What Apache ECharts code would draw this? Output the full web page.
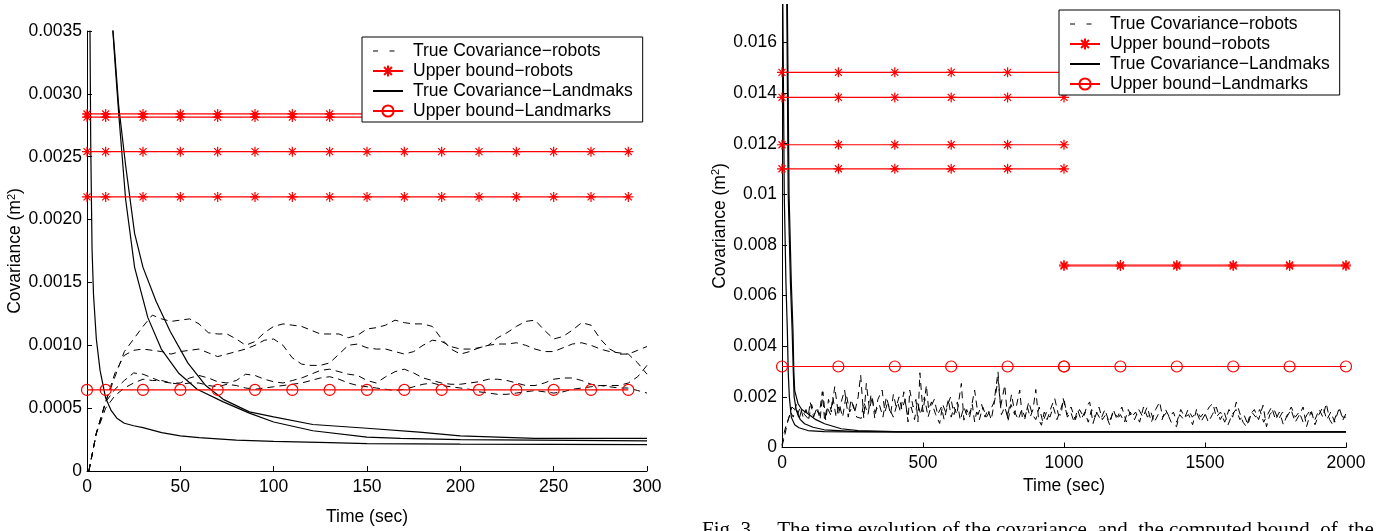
<!DOCTYPE html>
<html><head><meta charset="utf-8">
<script src="https://cdn.jsdelivr.net/npm/echarts@6/dist/echarts.min.js"></script>
<style>html,body{margin:0;padding:0;background:#fff}#c{width:1398px;height:531px}</style>
</head><body><div id="c"></div>
<script>
// Values in units of 10^-3 m^2 (axis labels show m^2)
const legendNames = ['True Covariance\u2212robots','Upper bound\u2212robots','True Covariance\u2212Landmaks','Upper bound\u2212Landmarks'];

// ---------- Left chart (0-300 s) ----------
const leftXTicks = [0,50,100,150,200,250,300];
const leftMarkerTimes = [0,10,30,50,70,90,110,130,150,170,190,210,230,250,270,290];
const leftRobotBounds = [2.84, 2.815, 2.54, 2.18];
const leftLandmarkBound = 0.645;
const leftLandmark1 = [[1.2,5],[1.6,3.5],[2,2.6],[2.7,1.77],[3.5,1.4],[5,1.05],[7,0.8],[10,0.58],[13,0.48],[16,0.42],[20,0.38],[25,0.36],[30,0.345],[40,0.305],[50,0.28],[60,0.265],[70,0.255],[80,0.245],[100,0.235],[130,0.225],[150,0.218],[200,0.214],[250,0.212],[300,0.21]];
const leftLandmark2 = [[13.4,3.6],[15,3.25],[17,2.84],[20.7,2.16],[25.5,1.62],[32.6,1.22],[39.8,0.97],[49,0.78],[59,0.65],[73,0.55],[87,0.46],[100,0.39],[121,0.32],[150,0.27],[168,0.26],[200,0.25],[300,0.24]];
const leftLandmark3 = [[13.4,3.6],[15,3.3],[17,2.9],[20.7,2.43],[25.5,1.89],[30,1.62],[37,1.35],[44.6,1.11],[54,0.86],[63.6,0.68],[73,0.57],[87,0.47],[100,0.43],[121,0.37],[150,0.34],[178,0.31],[200,0.28],[240,0.26],[300,0.26]];
const leftRobot1 = [[1,0],[5,0.3],[10,0.55],[15,0.75],[20,0.95],[25,1.05],[30,1.15],[35,1.24],[40,1.21],[45,1.19],[50,1.2],[55,1.21],[60,1.17],[65,1.1],[70,1.09],[75,1.09],[80,1.05],[85,1.0],[90,1.03],[95,1.1],[100,1.15],[105,1.17],[110,1.16],[115,1.15],[120,1.12],[125,1.09],[130,1.09],[135,1.09],[140,1.06],[145,1.08],[150,1.13],[155,1.14],[160,1.16],[165,1.2],[170,1.18],[175,1.17],[180,1.17],[185,1.15],[190,1.05],[195,0.97],[200,0.93],[205,0.95],[210,0.98],[215,1.0],[220,1.06],[225,1.1],[230,1.15],[235,1.19],[240,1.2],[245,1.12],[250,1.05],[255,1.07],[260,1.12],[265,1.18],[270,1.16],[275,1.05],[280,0.97],[285,0.93],[290,0.93],[295,0.96],[300,0.99]];
const leftRobot2 = [[1,0],[5,0.3],[10,0.55],[15,0.78],[20,0.92],[25,0.96],[30,0.97],[35,0.96],[40,0.95],[45,0.93],[50,0.95],[55,0.96],[60,0.97],[65,0.94],[70,0.91],[75,0.93],[80,0.95],[85,0.97],[90,1.0],[95,1.04],[100,1.05],[105,1.0],[110,0.9],[115,0.85],[120,0.84],[125,0.84],[130,0.86],[135,0.93],[140,1.0],[145,1.01],[150,0.98],[155,0.97],[160,0.97],[165,0.95],[170,0.93],[175,0.95],[180,1.0],[185,1.04],[190,1.03],[195,0.99],[200,0.97],[205,0.97],[210,0.98],[215,1.0],[220,1.01],[225,1.01],[230,1.02],[235,1.0],[240,0.97],[245,0.95],[250,0.95],[255,0.98],[260,1.01],[265,1.02],[270,1.0],[275,0.97],[280,0.95],[285,0.94],[290,0.93],[295,0.86],[300,0.77]];
const leftRobot3 = [[1,0],[5,0.3],[10,0.55],[15,0.65],[20,0.72],[25,0.78],[30,0.77],[35,0.74],[40,0.71],[45,0.7],[50,0.7],[55,0.74],[60,0.76],[65,0.74],[70,0.71],[75,0.7],[80,0.72],[85,0.77],[90,0.76],[95,0.73],[100,0.71],[105,0.7],[110,0.72],[115,0.74],[120,0.77],[125,0.8],[130,0.81],[135,0.79],[140,0.77],[145,0.76],[150,0.72],[155,0.7],[160,0.75],[165,0.79],[170,0.81],[175,0.78],[180,0.74],[185,0.72],[190,0.7],[195,0.69],[200,0.69],[205,0.7],[210,0.71],[215,0.73],[220,0.73],[225,0.72],[230,0.7],[235,0.68],[240,0.68],[245,0.7],[250,0.73],[255,0.74],[260,0.74],[265,0.72],[270,0.69],[275,0.68],[280,0.68],[285,0.68],[290,0.7],[295,0.75],[300,0.84]];
const leftRobot4 = [[1,0],[5,0.3],[10,0.5],[15,0.6],[20,0.66],[25,0.7],[30,0.73],[35,0.72],[40,0.72],[45,0.7],[50,0.69],[55,0.7],[60,0.7],[65,0.68],[70,0.67],[75,0.69],[80,0.68],[85,0.66],[90,0.65],[95,0.66],[100,0.67],[105,0.68],[110,0.69],[115,0.7],[120,0.72],[125,0.74],[130,0.75],[135,0.73],[140,0.7],[145,0.68],[150,0.67],[155,0.66],[160,0.65],[165,0.64],[170,0.65],[175,0.67],[180,0.69],[185,0.7],[190,0.68],[195,0.67],[200,0.66],[205,0.65],[210,0.63],[215,0.62],[220,0.61],[225,0.61],[230,0.62],[235,0.63],[240,0.64],[245,0.63],[250,0.62],[255,0.63],[260,0.65],[265,0.66],[270,0.67],[275,0.68],[280,0.67],[285,0.66],[290,0.66],[295,0.64],[300,0.62]];

// ---------- Right chart (0-2000 s) ----------
const rightXTicks = [0,500,1000,1500,2000];
const rightYTicks = [0,2,4,6,8,10,12,14,16];
const rightMarkerTimesA = [0,200,400,600,800,1000];
const rightMarkerTimesB = [1000,1200,1400,1600,1800,2000];
const rightRobotBoundsA = [14.82, 13.83, 11.96, 11.01];
const rightRobotBoundsB = [7.17, 7.21];
const rightLandmarkBound = 3.2;
const rightLandmark1 = [[2,30],[3,17.5],[8,10],[14,6.5],[19,4.6],[22,3.0],[26,2.0],[33,1.2],[45,0.9],[60,0.78],[92,0.67],[150,0.63],[250,0.62],[2000,0.62]];
const rightLandmark2 = [[15,30],[17,17.5],[22,10],[30,6.5],[36,4.6],[40,3.0],[43,2.0],[51,1.46],[65,1.1],[80,0.94],[110,0.8],[150,0.7],[250,0.64],[400,0.62],[2000,0.62]];
const rightLandmark3 = [[17,30],[19,17.5],[25,10],[33,6.5],[39,4.6],[42,3.0],[45,2.25],[57,1.73],[70,1.5],[92,1.33],[120,1.1],[151,0.94],[210,0.74],[270,0.67],[400,0.63],[600,0.62],[2000,0.62]];
const rightRobotA = [[0,0.1],[8,0.6],[15,0.9],[25,1.2],[35,1.6],[45,1.5],[55,1.3],[65,1.6],[75,1.2],[85,1.5],[95,1.15],[105,1.7],[115,1.3],[125,1.6],[135,1.1],[145,2.2],[155,1.08],[165,1.9],[175,1.4],[187,2.4],[200,1.3],[210,1.8],[222,2.27],[235,1.2],[245,1.9],[258,1.4],[270,2.0],[279,2.86],[290,1.15],[299,2.53],[310,1.5],[320,2.0],[329,1.15],[340,1.9],[355,2.27],[365,1.4],[375,1.8],[385,1.3],[395,2.1],[405,1.6],[415,2.0],[425,1.5],[437,1.9],[447,1.01],[453,2.27],[465,1.6],[475,1.9],[482,1.01],[489,2.95],[500,1.4],[512,2.46],[520,1.5],[530,1.8],[545,1.3],[559,0.95],[570,1.7],[580,1.4],[590,1.9],[600,1.2],[610,1.6],[620,1.3],[636,2.53],[645,1.08],[655,1.5],[665,1.2],[675,1.7],[683,1.01],[690,1.4],[700,1.1],[712,1.6],[725,1.2],[740,1.5],[752,1.8],[766,2.99],[775,1.6],[790,2.46],[801,1.01],[812,1.7],[825,1.3],[843,2.27],[852,1.2],[860,1.08],[870,1.6],[880,1.2],[890,1.5],[900,2.29],[910,1.1],[920,0.88],[930,1.4],[940,1.1],[955,1.6],[967,1.94],[980,1.3],[990,1.28],[997,1.94],[1010,1.3],[1025,1.6],[1040,1.1],[1055,1.5],[1070,1.2],[1080,1.6],[1091,1.8],[1103,0.95],[1115,1.4],[1130,1.1],[1145,1.5],[1160,1.0],[1175,1.4],[1190,1.2],[1205,1.6],[1221,1.01],[1235,1.4],[1250,1.1],[1265,1.5],[1280,1.2],[1295,1.6],[1310,1.0],[1325,1.5],[1339,1.8],[1350,1.2],[1365,1.4],[1380,1.0],[1399,0.82],[1410,1.3],[1425,1.1],[1440,1.5],[1455,1.2],[1470,1.4],[1485,1.0],[1500,1.3],[1515,1.6],[1528,1.74],[1540,1.2],[1555,1.4],[1570,1.0],[1585,1.5],[1598,1.2],[1611,1.8],[1625,1.3],[1635,1.0],[1647,0.82],[1660,1.3],[1675,1.5],[1690,1.1],[1706,1.67],[1718,0.82],[1730,1.3],[1745,1.5],[1760,1.1],[1775,1.4],[1790,1.2],[1805,1.5],[1820,1.0],[1835,1.3],[1848,1.6],[1860,0.82],[1875,1.4],[1890,1.1],[1905,1.5],[1918,1.2],[1930,1.74],[1942,1.1],[1954,0.88],[1965,1.3],[1978,1.5],[1990,1.1],[2000,1.34]];
const rightRobotB = [[0,0.05],[10,0.5],[20,1.0],[30,1.4],[40,1.2],[50,1.7],[60,1.1],[70,1.5],[80,1.3],[92,1.15],[100,1.8],[112,1.2],[122,1.5],[132,1.3],[143,2.2],[151,1.08],[160,1.6],[172,1.3],[180,2.0],[192,1.2],[203,1.7],[215,1.2],[228,2.1],[240,1.4],[252,1.7],[265,1.2],[281,1.15],[290,1.8],[305,1.3],[316,2.1],[330,1.4],[345,1.7],[358,1.2],[370,2.0],[382,1.5],[395,1.2],[410,1.8],[420,1.4],[432,2.2],[444,1.3],[458,1.6],[470,1.1],[480,1.8],[492,1.3],[505,2.0],[518,1.2],[528,1.6],[540,1.9],[552,1.3],[565,1.6],[575,1.1],[588,1.7],[598,2.0],[610,1.3],[622,1.8],[632,1.08],[645,1.6],[658,1.2],[670,1.5],[683,2.27],[695,1.3],[708,1.7],[720,1.2],[730,1.5],[742,1.1],[755,1.9],[766,2.7],[778,1.3],[790,1.6],[800,1.2],[814,2.1],[825,1.4],[838,1.1],[850,1.5],[862,1.2],[875,1.8],[888,1.3],[900,1.1],[912,1.6],[925,1.0],[938,1.4],[950,1.2],[962,1.6],[975,1.1],[988,1.5],[1000,1.9],[1012,1.2],[1024,1.4],[1036,1.0],[1048,1.5],[1060,1.1],[1074,1.4],[1086,1.0],[1098,1.5],[1110,1.2],[1124,1.6],[1136,1.1],[1148,1.3],[1162,0.9],[1175,1.5],[1188,1.1],[1200,1.3],[1214,1.0],[1228,1.5],[1240,1.2],[1254,1.4],[1268,1.0],[1282,1.6],[1296,1.2],[1308,1.4],[1320,1.0],[1334,1.3],[1348,1.1],[1360,1.5],[1374,1.2],[1388,1.4],[1400,1.0],[1414,1.5],[1428,1.2],[1442,1.3],[1456,0.9],[1470,1.5],[1484,1.2],[1498,1.4],[1512,1.0],[1526,1.3],[1540,1.6],[1554,1.1],[1568,1.4],[1582,0.9],[1596,1.3],[1610,1.5],[1624,1.1],[1638,1.3],[1652,0.9],[1666,1.4],[1680,1.2],[1694,1.5],[1708,1.0],[1722,1.3],[1736,1.6],[1750,1.1],[1764,1.4],[1778,0.9],[1792,1.3],[1806,1.6],[1820,1.2],[1834,1.4],[1848,1.0],[1862,1.3],[1876,1.5],[1890,0.9],[1904,1.3],[1918,1.6],[1932,1.1],[1946,1.4],[1960,1.0],[1974,1.5],[1988,1.2],[2000,1.2]];

const captionText = 'Fig. 3.    The time evolution of the covariance  and  the computed bound  of  the';

// ---------- styles ----------
const FONT = '"Liberation Sans", Arial, Helvetica, sans-serif';
const FS = 17.5;
const RED = '#ff0000';
const STAR = 'path://M5,0L5,10M0,5L10,5M1.5,1.5L8.5,8.5M1.5,8.5L8.5,1.5';

function dashed(name, data, xi) {
  return {name, type:'line', xAxisIndex:xi, yAxisIndex:xi, data, symbol:'none', z:3,
    color:'#000', lineStyle:{color:'#000', width:1, type:[7,5]}, animation:false};
}
function solid(name, data, xi) {
  return {name, type:'line', xAxisIndex:xi, yAxisIndex:xi, data, symbol:'none', z:3,
    color:'#000', lineStyle:{color:'#000', width:1.2}, animation:false};
}
function starLine(name, times, v, xi) {
  return {name, type:'line', xAxisIndex:xi, yAxisIndex:xi, data: times.map(t=>[t,v]),
    symbol:STAR, symbolSize:10, showAllSymbol:true, z:4, color:RED,
    itemStyle:{color:RED, borderColor:RED, borderWidth:1.2},
    lineStyle:{color:RED, width:1.2}, animation:false};
}
function circLine(name, times, v, xi) {
  return {name, type:'line', xAxisIndex:xi, yAxisIndex:xi, data: times.map(t=>[t,v]),
    symbol:'circle', symbolSize:11, showAllSymbol:true, z:4, color:RED,
    itemStyle:{color:'rgba(0,0,0,0)', borderColor:RED, borderWidth:1.2},
    lineStyle:{color:RED, width:1.2}, animation:false};
}

const series = [];
// left
[leftRobot1,leftRobot2,leftRobot3,leftRobot4].forEach(d=>series.push(dashed(legendNames[0], d, 0)));
leftRobotBounds.forEach(v=>series.push(starLine(legendNames[1], leftMarkerTimes, v, 0)));
[leftLandmark1,leftLandmark2,leftLandmark3].forEach(d=>series.push(solid(legendNames[2], d, 0)));
series.push(circLine(legendNames[3], leftMarkerTimes, leftLandmarkBound, 0));
// right
[rightRobotA,rightRobotB].forEach(d=>series.push(dashed(legendNames[0], d, 1)));
rightRobotBoundsA.forEach(v=>series.push(starLine(legendNames[1], rightMarkerTimesA, v, 1)));
rightRobotBoundsB.forEach(v=>series.push(starLine(legendNames[1], rightMarkerTimesB, v, 1)));
[rightLandmark1,rightLandmark2,rightLandmark3].forEach(d=>series.push(solid(legendNames[2], d, 1)));
series.push(circLine(legendNames[3], rightMarkerTimesA, rightLandmarkBound, 1));
series.push(circLine(legendNames[3], rightMarkerTimesB, rightLandmarkBound, 1));

const axisCommon = {
  type:'value', splitLine:{show:false},
  axisLine:{show:true, onZero:false, lineStyle:{color:'#000', width:1}},
  axisTick:{show:true, inside:true, length:5, lineStyle:{color:'#000'}},
  axisLabel:{color:'#000', fontSize:FS, fontFamily:FONT, margin:5},
  nameLocation:'middle',
  nameTextStyle:{color:'#000', fontSize:FS, fontFamily:FONT}
};
const yName = 'Covariance (m{sup|2})';
const yNameStyle = {color:'#000', fontSize:FS, fontFamily:FONT,
  rich:{sup:{fontSize:11, fontFamily:FONT, color:'#000', verticalAlign:'top', padding:[0,0,8,0]}}};

const noSymbol = {color:'rgba(0,0,0,0)', borderWidth:0};
function legendAt(left, top) {
  return {left, top, orient:'vertical', backgroundColor:'#fff',
    data:[
      {name:legendNames[0], itemStyle:noSymbol, lineStyle:{type:[5,11.5], width:1}},
      {name:legendNames[1]},
      {name:legendNames[2], itemStyle:noSymbol},
      {name:legendNames[3]}
    ],
    borderColor:'#000', borderWidth:1, borderRadius:0, padding:[4,10,1,10], itemGap:0,
    itemWidth:30, itemHeight:14, selectedMode:false, z:10,
    textStyle:{fontSize:FS, lineHeight:20, color:'#000', fontFamily:FONT, padding:[0,0,0,5]}};
}

const xFmt = v => String(v);

const option = {
  backgroundColor:'#fff',
  animation:false,
  grid:[
    {left:87, top:31, width:560, height:443},
    {left:782, top:4.5, width:564, height:443}
  ],
  xAxis:[
    Object.assign({}, axisCommon, {gridIndex:0, min:0, max:300, interval:50,
      name:'Time (sec)', nameGap:37,
      axisLabel:Object.assign({}, axisCommon.axisLabel, {margin:7, customValues:leftXTicks, formatter:xFmt})}),
    Object.assign({}, axisCommon, {gridIndex:1, min:0, max:2000, interval:500,
      name:'Time (sec)', nameGap:26,
      axisLabel:Object.assign({}, axisCommon.axisLabel, {margin:7, customValues:rightXTicks, formatter:xFmt})})
  ],
  yAxis:[
    Object.assign({}, axisCommon, {gridIndex:0, min:0, max:3.5, interval:0.5,
      name:yName, nameGap:51, nameTextStyle:yNameStyle,
      axisLabel:Object.assign({}, axisCommon.axisLabel, {formatter:v=> v===0?'0':(v/1000).toFixed(4)})}),
    Object.assign({}, axisCommon, {gridIndex:1, min:0, max:17.5, interval:2,
      name:yName, nameGap:51, nameTextStyle:yNameStyle,
      axisTick:Object.assign({}, axisCommon.axisTick, {customValues:rightYTicks}),
      axisLabel:Object.assign({}, axisCommon.axisLabel, {customValues:rightYTicks,
        formatter:v=> v===0?'0':String(parseFloat((v/1000).toFixed(3)))})})
  ],
  legend:[legendAt(362,37), legendAt(1059,10)],
  graphic:[{type:'text', left:702, top:520, z:20,
    style:{text:captionText, font:'21px "Liberation Serif", "Times New Roman", serif', fill:'#000'}}],
  series
};

const chart = echarts.init(document.getElementById('c'), null, {renderer:'canvas'});
chart.setOption(option);
</script>
</body></html>
